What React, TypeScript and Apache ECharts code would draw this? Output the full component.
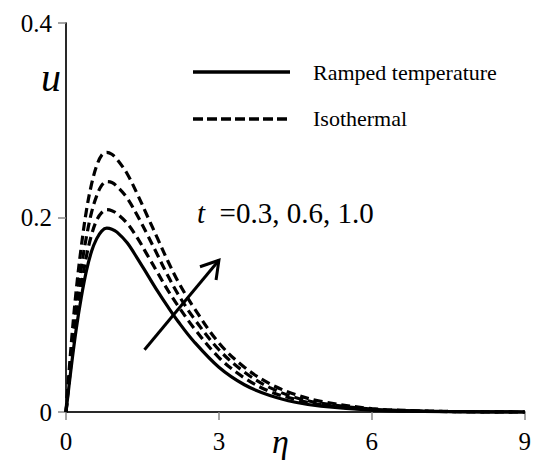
import React, { useEffect, useRef } from "react";
import * as echarts from "echarts";

// Similarity variable η and velocity u for the ramped and isothermal plates
const ETA = [0, 0.1, 0.2, 0.3, 0.4, 0.5, 0.6, 0.7, 0.8, 0.9, 1.0, 1.2, 1.4, 1.6, 1.8, 2.0, 2.2, 2.5, 3.0, 3.5, 4.0, 4.5, 5.0, 6.0, 7.0, 8.0, 9.0];

const RAMPED = [0, 0.045, 0.085, 0.118, 0.145, 0.165, 0.178, 0.186, 0.189, 0.188, 0.185, 0.174, 0.158, 0.141, 0.124, 0.108, 0.093, 0.073, 0.046, 0.028, 0.017, 0.01, 0.006, 0.002, 0.0007, 0.0002, 0];
const ISO_T03 = [0, 0.05, 0.093, 0.13, 0.16, 0.182, 0.197, 0.205, 0.208, 0.207, 0.204, 0.194, 0.179, 0.161, 0.143, 0.125, 0.109, 0.087, 0.056, 0.035, 0.021, 0.013, 0.0075, 0.0025, 0.0008, 0.0002, 0];
const ISO_T06 = [0, 0.058, 0.107, 0.148, 0.18, 0.205, 0.222, 0.233, 0.237, 0.236, 0.232, 0.22, 0.202, 0.182, 0.161, 0.14, 0.121, 0.097, 0.064, 0.041, 0.025, 0.015, 0.009, 0.003, 0.001, 0.0003, 0];
const ISO_T10 = [0, 0.068, 0.125, 0.17, 0.207, 0.234, 0.253, 0.264, 0.267, 0.265, 0.26, 0.245, 0.224, 0.201, 0.178, 0.155, 0.134, 0.108, 0.071, 0.046, 0.029, 0.018, 0.011, 0.0035, 0.0011, 0.0003, 0];

const X_TICKS = [0, 3, 6, 9];
const Y_TICKS = [0, 0.2, 0.4];

// arrow showing the direction of increasing t, in data coordinates
const ARROW_FROM = [1.54, 0.064];
const ARROW_TO = [3.0, 0.156];

const SERIF = "Times New Roman, Liberation Serif, serif";

export default function App() {
  const ref = useRef<HTMLDivElement>(null);

  useEffect(() => {
    const chart = echarts.init(ref.current!, null, { renderer: "svg" });

    const pairs = (ys: number[]) => ETA.map((x, i) => [x, ys[i]]);
    const curve = (name: string, ys: number[], dashed: boolean) => ({
      name,
      type: "line",
      data: pairs(ys),
      smooth: 0.35,
      showSymbol: false,
      symbol: "none",
      clip: false,
      z: 5,
      lineStyle: {
        color: "#000",
        width: 3.2,
        type: dashed ? [9, 5] : "solid",
      },
    });

    chart.setOption({
      animation: false,
      backgroundColor: "#fff",
      textStyle: { fontFamily: SERIF },
      grid: { left: 66, right: 7, top: 23, bottom: 51 },
      xAxis: [
        {
          type: "value",
          min: X_TICKS[0],
          max: X_TICKS[X_TICKS.length - 1],
          interval: 3,
          axisLine: { show: true, lineStyle: { color: "#878787", width: 1.5 } },
          axisTick: { show: true, length: 8, lineStyle: { color: "#878787", width: 1.5 } },
          axisLabel: { fontFamily: SERIF, fontSize: 25, color: "#000", margin: 17 },
          splitLine: { show: false },
        },
        {
          type: "value",
          position: "top",
          min: 0,
          max: 9,
          axisLine: { show: true, lineStyle: { color: "#000", width: 1.5 } },
          axisTick: { show: false },
          axisLabel: { show: false },
          splitLine: { show: false },
        },
      ],
      yAxis: [
        {
          type: "value",
          min: Y_TICKS[0],
          max: Y_TICKS[Y_TICKS.length - 1],
          interval: 0.2,
          axisLine: { show: true, lineStyle: { color: "#878787", width: 1.5 } },
          axisTick: { show: true, length: 8, lineStyle: { color: "#878787", width: 1.5 } },
          axisLabel: {
            fontFamily: SERIF,
            fontSize: 25,
            color: "#000",
            margin: 14,
            formatter: (v: number) => (v === 0 ? "0" : v.toFixed(1)),
          },
          splitLine: { show: false },
        },
        {
          type: "value",
          position: "right",
          min: 0,
          max: 0.4,
          axisLine: { show: true, lineStyle: { color: "#000", width: 1.5 } },
          axisTick: { show: false },
          axisLabel: { show: false },
          splitLine: { show: false },
        },
      ],
      series: [
        curve("Ramped temperature", RAMPED, false),
        curve("Isothermal t = 0.3", ISO_T03, true),
        curve("Isothermal t = 0.6", ISO_T06, true),
        curve("Isothermal t = 1.0", ISO_T10, true),
      ],
    });

    // arrow from data coordinates
    const a = chart.convertToPixel({ gridIndex: 0 }, ARROW_FROM) as number[];
    const b = chart.convertToPixel({ gridIndex: 0 }, ARROW_TO) as number[];
    const ang = Math.atan2(b[1] - a[1], b[0] - a[0]);
    const headLen = 20;
    const spread = 0.55;
    const h1 = [b[0] - headLen * Math.cos(ang - spread), b[1] - headLen * Math.sin(ang - spread)];
    const h2 = [b[0] - headLen * Math.cos(ang + spread), b[1] - headLen * Math.sin(ang + spread)];

    const textStyle = (extra: object) => ({ fill: "#000", fontFamily: SERIF, ...extra });

    chart.setOption({
      graphic: [
        // legend
        { type: "line", shape: { x1: 193, y1: 72, x2: 290, y2: 72 }, style: { stroke: "#000", lineWidth: 3.5 }, z: 10 },
        { type: "text", x: 313, y: 72, style: textStyle({ text: "Ramped temperature", fontSize: 22, verticalAlign: "middle" }), z: 10 },
        { type: "line", shape: { x1: 193, y1: 119, x2: 290, y2: 119 }, style: { stroke: "#000", lineWidth: 3.5, lineDash: [10, 4] }, z: 10 },
        { type: "text", x: 313, y: 118, style: textStyle({ text: "Isothermal", fontSize: 22, verticalAlign: "middle" }), z: 10 },
        // axis titles
        { type: "text", x: 41, y: 77, style: textStyle({ text: "u", fontSize: 40, fontStyle: "italic", verticalAlign: "middle" }), z: 10 },
        { type: "text", x: 272, y: 441, style: textStyle({ text: "η", fontSize: 34, fontStyle: "italic", verticalAlign: "middle" }), z: 10 },
        // parameter annotation
        {
          type: "text",
          x: 197,
          y: 213,
          style: {
            text: "{i|t}{n|  =0.3, 0.6, 1.0}",
            verticalAlign: "middle",
            rich: {
              i: { fontFamily: SERIF, fontSize: 29, fontStyle: "italic", fill: "#000" },
              n: { fontFamily: SERIF, fontSize: 29, fill: "#000" },
            },
          },
          z: 10,
        },
        // arrow
        { type: "line", shape: { x1: a[0], y1: a[1], x2: b[0], y2: b[1] }, style: { stroke: "#000", lineWidth: 3 }, z: 10 },
        { type: "polyline", shape: { points: [h1, b, h2] }, style: { stroke: "#000", lineWidth: 3, fill: null }, z: 10 },
      ],
    });

    return () => chart.dispose();
  }, []);

  return <div ref={ref} style={{ position: "fixed", left: 0, top: 0, width: 534, height: 463 }} />;
}
